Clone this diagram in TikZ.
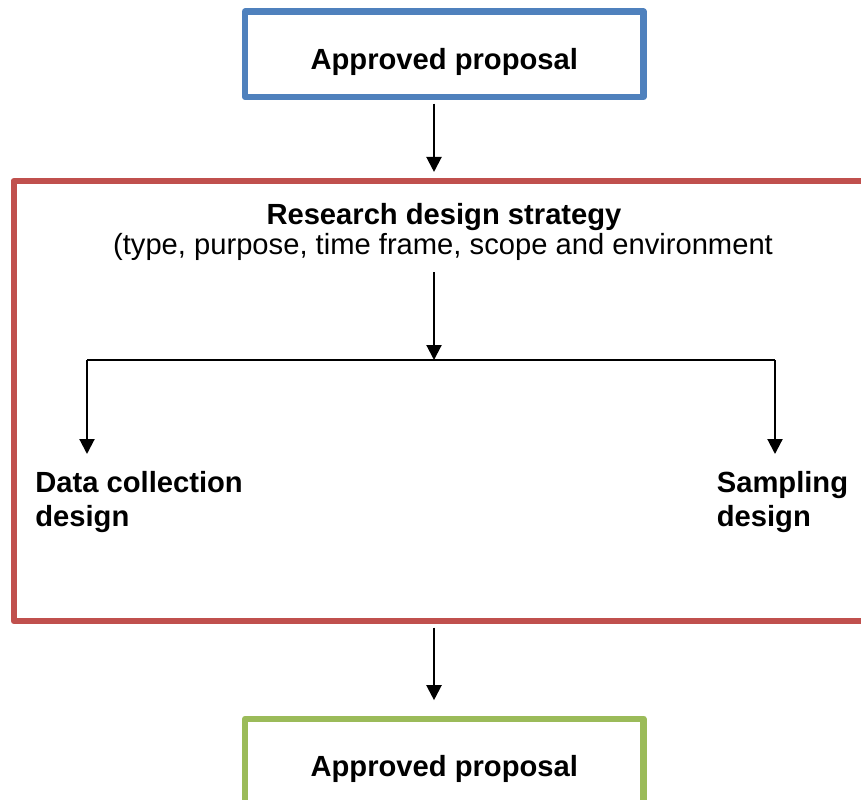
\documentclass[tikz,border=0pt]{standalone}
\usepackage{fontspec}
\setmainfont{Liberation Sans}
\usetikzlibrary{arrows.meta}
\definecolor{boxblue}{RGB}{79,129,189}
\definecolor{boxred}{RGB}{192,80,77}
\definecolor{boxgreen}{RGB}{155,187,89}
\newcommand{\diagfont}{\fontsize{16.6pt}{19.4pt}\selectfont}
\tikzset{
	propbox/.style={draw=#1,line width=3.5pt,minimum width=7.97cm,minimum height=1.71cm,
		text height=21pt,text depth=3.5pt,font=\diagfont\bfseries},
	flow/.style={->,line width=1.2pt},
	designtext/.style={anchor=north west,inner sep=0pt,align=left,font=\diagfont\bfseries}
}
\begin{document}
\begin{tikzpicture}[x=0.02cm,y=-0.02cm,>={Triangle[width=0.3cm,length=0.3cm]},line join=round,font=\diagfont]
	\clip (0,0) rectangle (861,800);
	\node[propbox=boxblue] (approved) at (444.3,54.2) {Approved proposal};
	\node[draw=boxred,line width=3.5pt,minimum width=17.33cm,minimum height=8.8cm] (frame) at (446.75,401) {};
	\node[font=\diagfont\bfseries] (strategy) at (444,217) {Research design strategy};
	\node (scope) at (443,246.5) {(type, purpose, time frame, scope and environment};
	\node[designtext] (collection) at (35,471) {Data collection\\design};
	\node[designtext] (sampling) at (716.5,471) {Sampling\\design};
	\node[propbox=boxgreen] (final) at (444.3,761.5) {Approved proposal};
	\coordinate (branch) at (434,360);
	\coordinate (leftdrop) at (87,360);
	\coordinate (rightdrop) at (775,360);
	% connectors
	\draw[flow,shorten <=0.07cm,shorten >=0.12cm] (approved.south -| branch) -- (frame.north -| branch);
	\draw[flow,shorten <=0.12cm] (scope.south -| branch) -- (branch);
	\draw[line width=1pt] (leftdrop) -- (rightdrop);
	\draw[flow,shorten >=0.34cm] (leftdrop) -- (leftdrop |- collection.north);
	\draw[flow,shorten >=0.34cm] (rightdrop) -- (rightdrop |- sampling.north);
	\draw[flow,shorten <=0.07cm,shorten >=0.31cm] (frame.south -| branch) -- (final.north -| branch);
\end{tikzpicture}
\end{document}
